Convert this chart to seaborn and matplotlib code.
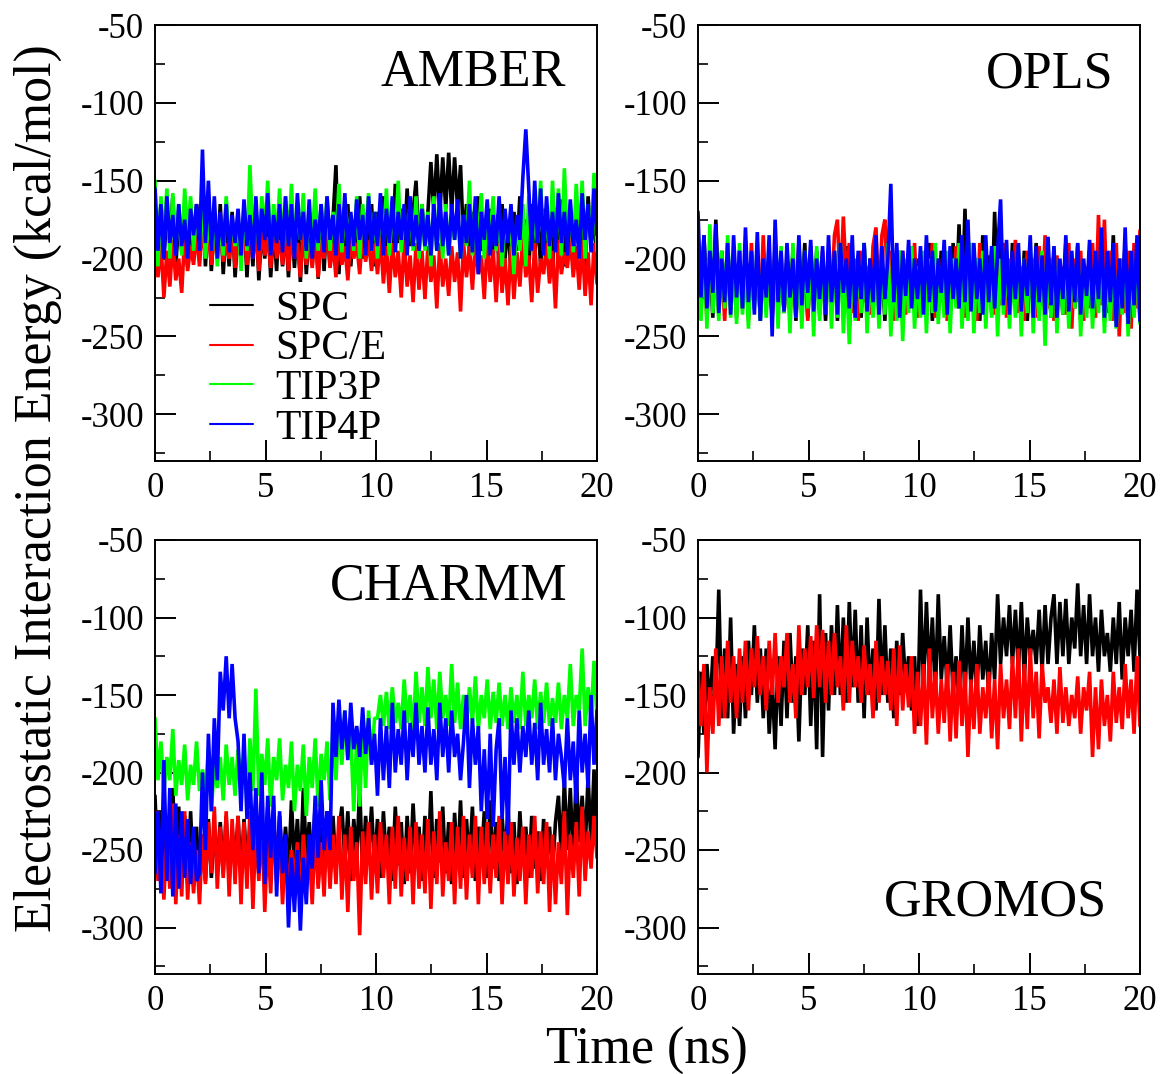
import numpy as np
import pandas as pd
import matplotlib
matplotlib.use("Agg")
import matplotlib.pyplot as plt
import seaborn as sns

water_models = ["SPC", "SPC/E", "TIP3P", "TIP4P"]
x_ticks = [0, 5, 10, 15, 20]
y_ticks = [-50, -100, -150, -200, -250, -300]

amber_spc = [
-175,-195,-165,-200,-170,-190,-160,-205,-175,-195,-168,-205,-172,-198,-165,
-180,-160,-205,-170,-208,-175,-200,-165,-210,-178,-205,-170,-212,-180,-200,
-170,-212,-175,-205,-168,-214,-180,-200,-172,-212,-178,-208,-165,-205,-180,
-212,-172,-206,-178,-215,-170,-210,-180,-204,-172,-213,-175,-208,-168,-205,
-175,-140,-210,-170,-200,-165,-205,-175,-195,-160,-200,-178,-198,-165,-205,
-170,-195,-160,-198,-175,-200,-152,-190,-168,-196,-155,-192,-170,-150,-195,
-165,-190,-170,-138,-170,-133,-172,-135,-168,-132,-170,-135,-168,-140,-190,
-165,-195,-170,-200,-160,-195,-175,-205,-168,-198,-172,-205,-165,-200,-175,
-210,-170,-195,-160,-200,-175,-208,-165,-198,-172,-205,-168,-200,-175,-208,
-170,-195,-162,-205,-175,-185,-205,-165,-195,-170,-205,-160,-190,-175,-200]
amber_spce = [
-185,-212,-190,-225,-195,-218,-188,-214,-200,-222,-185,-208,-192,-204,-183,
-205,-178,-200,-182,-204,-186,-198,-180,-202,-190,-200,-178,-206,-185,-200,
-180,-204,-188,-200,-178,-208,-182,-198,-186,-206,-180,-200,-188,-204,-180,
-208,-186,-200,-190,-212,-182,-204,-190,-206,-184,-212,-188,-200,-182,-206,
-190,-212,-184,-204,-192,-214,-186,-200,-190,-210,-182,-202,-188,-208,-190,
-210,-186,-216,-192,-222,-190,-212,-195,-225,-188,-218,-198,-228,-190,-220,
-195,-226,-192,-215,-198,-232,-190,-218,-200,-224,-192,-215,-196,-234,-190,
-212,-192,-220,-190,-210,-198,-226,-188,-215,-194,-228,-190,-222,-200,-230,
-192,-226,-196,-218,-186,-212,-198,-228,-190,-222,-200,-210,-190,-216,-195,
-232,-188,-210,-196,-206,-186,-212,-192,-220,-188,-224,-196,-230,-190,-216]
amber_tip3p = [
-150,-205,-160,-190,-155,-200,-158,-195,-165,-198,-155,-185,-160,-195,-170,
-190,-165,-200,-172,-195,-168,-205,-175,-198,-160,-188,-178,-192,-172,-208,
-165,-195,-140,-188,-170,-192,-160,-185,-150,-195,-165,-188,-155,-192,-160,
-190,-152,-196,-165,-188,-158,-200,-170,-190,-155,-195,-165,-190,-160,-195,
-170,-192,-152,-196,-162,-188,-172,-195,-160,-200,-165,-185,-158,-195,-170,
-200,-165,-190,-155,-198,-170,-188,-150,-196,-170,-190,-165,-195,-160,-200,
-165,-195,-170,-205,-160,-195,-172,-200,-165,-198,-175,-188,-168,-200,-172,
-192,-150,-198,-170,-190,-158,-200,-172,-185,-160,-195,-170,-205,-175,-188,
-180,-210,-175,-195,-165,-205,-160,-195,-172,-190,-150,-195,-168,-200,-150,
-192,-155,-198,-142,-190,-165,-196,-152,-188,-150,-200,-165,-190,-145,-195]
amber_tip4p = [
-155,-195,-165,-200,-160,-190,-172,-198,-165,-192,-175,-200,-168,-185,-165,
-195,-130,-190,-150,-195,-160,-200,-170,-192,-165,-196,-172,-190,-168,-198,
-162,-192,-172,-200,-160,-195,-168,-188,-158,-198,-172,-190,-165,-196,-160,
-192,-165,-200,-158,-188,-170,-195,-162,-200,-175,-190,-165,-196,-160,-188,
-172,-198,-165,-190,-158,-200,-170,-192,-162,-188,-172,-198,-160,-195,-170,
-192,-158,-198,-168,-190,-160,-196,-170,-188,-165,-198,-160,-192,-172,-195,
-168,-192,-172,-198,-165,-195,-158,-192,-170,-198,-165,-188,-162,-200,-172,
-190,-165,-196,-160,-210,-170,-188,-162,-198,-172,-192,-160,-196,-168,-190,
-165,-198,-172,-188,-148,-117,-155,-195,-150,-190,-155,-198,-160,-192,-170,
-196,-158,-190,-170,-198,-162,-192,-175,-200,-158,-188,-165,-196,-155,-185]

opls_spc = [
-190,-230,-185,-225,-200,-238,-175,-225,-195,-230,-190,-232,-200,-228,-195,
-232,-200,-236,-205,-228,-198,-240,-195,-225,-205,-238,-190,-230,-198,-235,
-200,-228,-195,-240,-205,-225,-190,-238,-200,-232,-195,-226,-205,-240,-198,
-228,-195,-240,-200,-230,-192,-245,-205,-232,-198,-238,-190,-228,-200,-236,
-195,-230,-205,-240,-190,-228,-200,-234,-195,-238,-205,-226,-192,-232,-200,
-236,-198,-225,-190,-240,-200,-230,-195,-226,-205,-238,-190,-228,-178,-235,
-168,-232,-190,-228,-200,-240,-185,-225,-198,-235,-170,-230,-190,-228,-198,
-236,-190,-228,-200,-232,-195,-240,-205,-226,-190,-235,-200,-228,-195,-238,
-195,-230,-205,-236,-190,-228,-200,-232,-192,-240,-205,-226,-195,-234,-200,
-228,-190,-240,-205,-232,-185,-235,-200,-226,-190,-244,-205,-228,-190,-240]
opls_spce = [
-205,-235,-195,-240,-200,-228,-190,-234,-205,-240,-195,-225,-205,-238,-195,
-232,-200,-240,-190,-226,-205,-236,-185,-230,-200,-238,-195,-228,-205,-234,
-198,-238,-205,-225,-190,-235,-200,-240,-192,-228,-205,-236,-195,-230,-200,
-225,-185,-175,-220,-173,-215,-190,-235,-200,-240,-195,-228,-205,-236,-192,
-180,-232,-185,-175,-225,-195,-240,-205,-228,-195,-236,-200,-230,-190,-238,
-205,-232,-198,-226,-190,-238,-200,-228,-195,-240,-205,-225,-192,-232,-200,
-238,-195,-228,-205,-240,-190,-232,-200,-226,-195,-236,-205,-230,-190,-238,
-200,-228,-188,-235,-205,-240,-195,-225,-200,-238,-192,-230,-185,-232,-200,
-240,-198,-226,-205,-236,-190,-245,-200,-228,-195,-240,-205,-232,-190,-238,
-172,-230,-175,-235,-195,-240,-190,-250,-200,-235,-195,-245,-190,-232,-182]
opls_tip3p = [
-195,-240,-188,-245,-178,-235,-205,-240,-195,-232,-185,-238,-200,-242,-190,
-236,-195,-245,-200,-232,-190,-240,-205,-238,-195,-228,-200,-245,-192,-235,
-200,-248,-190,-238,-205,-245,-195,-232,-200,-250,-192,-240,-205,-235,-195,
-245,-200,-238,-190,-248,-205,-255,-195,-240,-200,-235,-190,-248,-205,-238,
-195,-245,-200,-236,-190,-250,-205,-240,-195,-253,-200,-235,-192,-245,-205,
-238,-195,-248,-200,-235,-190,-242,-205,-238,-195,-248,-200,-232,-190,-245,
-205,-240,-190,-248,-200,-235,-195,-245,-205,-238,-192,-250,-200,-236,-195,
-245,-205,-238,-195,-250,-200,-235,-190,-248,-205,-240,-195,-256,-200,-238,
-192,-248,-205,-236,-195,-245,-200,-232,-190,-250,-205,-238,-195,-245,-200,
-235,-190,-248,-205,-240,-195,-245,-200,-236,-192,-250,-205,-238,-195,-242]
opls_tip4p = [
-170,-225,-185,-232,-195,-222,-178,-235,-200,-228,-190,-236,-185,-225,-195,
-232,-180,-228,-195,-236,-183,-240,-200,-225,-185,-250,-175,-228,-195,-234,
-190,-225,-200,-238,-185,-230,-195,-222,-188,-234,-200,-226,-192,-236,-185,
-228,-195,-236,-190,-222,-200,-232,-185,-238,-195,-226,-190,-234,-200,-228,
-185,-236,-192,-226,-200,-152,-228,-190,-238,-195,-224,-188,-232,-200,-226,
-192,-236,-185,-228,-195,-234,-200,-222,-188,-236,-192,-226,-200,-232,-185,
-228,-175,-234,-190,-226,-200,-236,-185,-228,-192,-232,-195,-162,-230,-188,
-236,-195,-226,-190,-234,-200,-224,-185,-238,-192,-228,-198,-236,-186,-230,
-192,-238,-200,-226,-185,-234,-195,-228,-190,-236,-200,-224,-188,-232,-195,
-226,-180,-238,-195,-228,-190,-244,-200,-232,-180,-242,-195,-230,-185,-240]

charmm_spc = [
-215,-265,-225,-275,-230,-270,-210,-262,-222,-268,-228,-272,-225,-270,-235,
-275,-240,-270,-230,-268,-238,-258,-232,-265,-228,-270,-235,-262,-228,-268,
-230,-260,-235,-272,-228,-265,-240,-258,-222,-268,-232,-260,-228,-262,-235,
-265,-218,-260,-230,-268,-210,-255,-232,-262,-220,-272,-235,-258,-225,-268,
-228,-262,-238,-222,-258,-225,-270,-230,-255,-210,-265,-228,-252,-222,-262,
-230,-268,-225,-258,-235,-270,-222,-260,-232,-272,-228,-265,-220,-258,-235,
-270,-228,-262,-212,-268,-230,-258,-222,-265,-232,-272,-226,-262,-218,-268,
-230,-260,-222,-270,-235,-258,-225,-268,-218,-262,-232,-270,-228,-258,-222,
-265,-232,-272,-225,-260,-235,-268,-228,-262,-238,-270,-230,-258,-235,-265,
-232,-215,-255,-205,-250,-210,-258,-200,-245,-215,-250,-202,-248,-198,-252]
charmm_spce = [
-225,-270,-240,-282,-235,-275,-220,-285,-240,-280,-225,-282,-245,-278,-250,
-285,-240,-272,-232,-265,-222,-275,-235,-268,-225,-280,-230,-272,-228,-285,
-232,-275,-225,-288,-235,-270,-228,-290,-240,-278,-230,-270,-240,-285,-245,
-280,-250,-270,-245,-285,-240,-265,-250,-285,-235,-275,-245,-280,-232,-275,
-240,-272,-228,-282,-240,-290,-235,-270,-245,-305,-238,-272,-232,-282,-240,
-278,-232,-268,-240,-285,-235,-275,-228,-280,-242,-270,-235,-285,-232,-275,
-240,-278,-230,-288,-238,-272,-225,-280,-245,-270,-232,-285,-235,-275,-228,
-282,-240,-268,-228,-285,-235,-272,-232,-278,-240,-268,-228,-285,-238,-272,
-232,-280,-242,-270,-235,-285,-240,-268,-228,-278,-238,-272,-232,-290,-240,
-285,-245,-272,-225,-292,-240,-268,-232,-280,-222,-270,-238,-262,-228,-255]
charmm_tip3p = [
-165,-205,-180,-212,-190,-205,-172,-215,-192,-208,-182,-218,-195,-208,-180,
-212,-198,-215,-185,-225,-195,-210,-190,-218,-182,-208,-190,-215,-185,-205,
-190,-220,-178,-212,-146,-215,-188,-208,-178,-222,-190,-205,-178,-218,-195,
-210,-180,-225,-195,-212,-182,-228,-190,-210,-178,-222,-188,-205,-180,-218,
-170,-205,-165,-195,-160,-190,-175,-225,-178,-222,-170,-210,-160,-195,-165,
-165,-150,-170,-148,-172,-145,-168,-155,-172,-140,-168,-150,-175,-135,-168,
-145,-170,-132,-165,-140,-172,-135,-165,-150,-170,-130,-168,-142,-172,-150,
-170,-145,-168,-138,-172,-150,-165,-140,-172,-148,-168,-142,-170,-150,-172,
-145,-168,-150,-172,-135,-170,-150,-165,-140,-172,-148,-168,-142,-170,-152,
-168,-142,-172,-150,-165,-130,-170,-150,-160,-120,-170,-145,-165,-128,-165]
charmm_tip4p = [
-265,-225,-278,-192,-270,-210,-280,-220,-275,-225,-268,-230,-272,-235,-270,
-265,-200,-250,-175,-225,-165,-205,-135,-160,-125,-165,-130,-165,-180,-225,
-175,-230,-200,-250,-210,-265,-200,-272,-215,-255,-215,-280,-225,-265,-240,
-300,-255,-290,-250,-302,-255,-285,-240,-262,-215,-255,-205,-250,-225,-250,
-155,-190,-153,-185,-160,-192,-155,-185,-170,-190,-158,-188,-165,-195,-175,
-215,-165,-205,-170,-210,-155,-200,-172,-195,-160,-205,-168,-190,-155,-195,
-170,-200,-158,-195,-172,-205,-155,-190,-165,-200,-160,-190,-175,-205,-180,
-150,-210,-165,-195,-170,-225,-185,-230,-175,-235,-185,-165,-230,-190,-240,
-160,-195,-165,-200,-170,-190,-160,-195,-168,-205,-155,-195,-172,-200,-165,
-205,-175,-190,-210,-165,-205,-180,-220,-160,-200,-175,-210,-150,-195,-160]

gromos_spc = [
-190,-135,-175,-130,-160,-125,-150,-82,-165,-120,-165,-100,-175,-130,-170,
-125,-165,-115,-150,-105,-155,-120,-165,-120,-175,-140,-185,-125,-170,-115,
-165,-110,-155,-125,-180,-120,-150,-105,-170,-115,-185,-85,-190,-110,-160,
-105,-150,-92,-150,-100,-155,-90,-145,-95,-155,-105,-165,-100,-150,-120,
-160,-88,-150,-105,-155,-120,-165,-115,-150,-110,-145,-125,-160,-125,-170,
-82,-145,-90,-140,-100,-150,-85,-140,-112,-145,-105,-150,-125,-155,-105,
-150,-100,-145,-115,-150,-105,-140,-115,-150,-110,-140,-85,-130,-100,-125,
-92,-130,-95,-135,-90,-140,-100,-125,-108,-130,-95,-135,-92,-130,-100,
-85,-130,-90,-125,-88,-130,-100,-120,-78,-125,-92,-130,-85,-125,-100,
-135,-95,-125,-110,-135,-100,-130,-90,-140,-100,-125,-95,-135,-82,-125]
gromos_spce = [
-135,-170,-130,-200,-145,-175,-120,-170,-125,-165,-115,-155,-125,-165,-120,
-155,-115,-160,-120,-145,-112,-150,-125,-160,-115,-150,-110,-155,-125,-145,
-110,-155,-130,-165,-105,-150,-120,-145,-112,-152,-105,-145,-108,-155,-115,
-150,-110,-145,-125,-160,-105,-155,-115,-145,-125,-155,-118,-150,-130,-165,
-115,-155,-125,-150,-128,-160,-120,-170,-118,-160,-130,-158,-125,-175,-135,
-170,-130,-182,-120,-165,-135,-175,-140,-168,-130,-180,-135,-178,-128,-170,
-135,-190,-140,-172,-130,-175,-145,-165,-135,-178,-140,-185,-130,-165,-140,
-172,-125,-165,-120,-180,-130,-172,-120,-165,-135,-178,-130,-155,-145,-168,
-140,-175,-132,-168,-145,-170,-150,-165,-138,-175,-145,-160,-135,-190,-145,
-185,-140,-170,-150,-180,-135,-168,-145,-172,-130,-165,-140,-175,-125,-170]

sns.set_theme(style="ticks")
plt.rcParams["font.family"] = ["Liberation Serif", "DejaVu Serif"]
plt.rcParams["axes.unicode_minus"] = False

W, H = 1162, 1074
fig = plt.figure(figsize=(W / 100, H / 100), dpi=100, facecolor="white")
colors = {"SPC": "#000000", "SPC/E": "#ff0000", "TIP3P": "#00ff00", "TIP4P": "#0000ff"}


def panel(px_left, px_top, px_bottom, series, name, name_right, name_base):
    ax = fig.add_axes([px_left / W, 1 - px_bottom / H, 442 / W, (px_bottom - px_top) / H])
    for model, vals in zip(water_models, series):
        frame = pd.DataFrame({"time": np.linspace(0, 20, len(vals)), "energy": vals})
        sns.lineplot(data=frame, x="time", y="energy", color=colors[model], lw=2.6,
                     estimator=None, sort=False, ax=ax, label=model, legend=False,
                     solid_joinstyle="bevel")
    ax.set_xlim(0, 20)
    ax.set_ylim(-330, -50)
    ax.set_xticks(x_ticks)
    ax.set_yticks(y_ticks)
    ax.set_xticks([2.5, 7.5, 12.5, 17.5], minor=True)
    ax.set_yticks([-75, -125, -175, -225, -275, -325], minor=True)
    ax.set_xticklabels([str(t) for t in x_ticks])
    ax.set_yticklabels([str(t) for t in y_ticks])
    ax.tick_params(which="major", direction="in", length=15, width=1.4, labelsize=25, pad=8, colors="black")
    ax.tick_params(which="minor", direction="in", length=7.5, width=1.4)
    ax.set_xlabel("")
    ax.set_ylabel("")
    for s in ax.spines.values():
        s.set_linewidth(1.4)
        s.set_color("black")
    fig.text(name_right / W, 1 - name_base / H, name, fontsize=37.5, ha="right", va="baseline", color="black")
    return ax


ax1 = panel(155, 25, 461, [amber_spc, amber_spce, amber_tip3p, amber_tip4p], "AMBER", 566, 86)
panel(698, 25, 461, [opls_spc, opls_spce, opls_tip3p, opls_tip4p], "OPLS", 1113, 88)
panel(155, 540, 974, [charmm_spc, charmm_spce, charmm_tip3p, charmm_tip4p], "CHARMM", 567, 600)
panel(698, 540, 974, [gromos_spc, gromos_spce], "GROMOS", 1107, 916)

handles, labels = ax1.get_legend_handles_labels()
leg = ax1.legend(handles, labels, loc="upper left", bbox_to_anchor=((210 - 155) / 442, (461 - 290) / 436),
                 frameon=False, fontsize=30, handlelength=1.03, handletextpad=0.53,
                 labelspacing=0.03, borderpad=0, borderaxespad=0, labelcolor="black")
for line in leg.get_lines():
    line.set_linewidth(1.5)

fig.text(38 / W, 1 - 488 / H, "Electrostatic Interaction Energy (kcal/mol)", rotation=90,
         fontsize=37.4, ha="center", va="center", color="black")
fig.text(647 / W, 1 - 1051 / H, "Time (ns)", fontsize=37.5, ha="center", va="center", color="black")

fig.savefig("out.png", dpi=100)
